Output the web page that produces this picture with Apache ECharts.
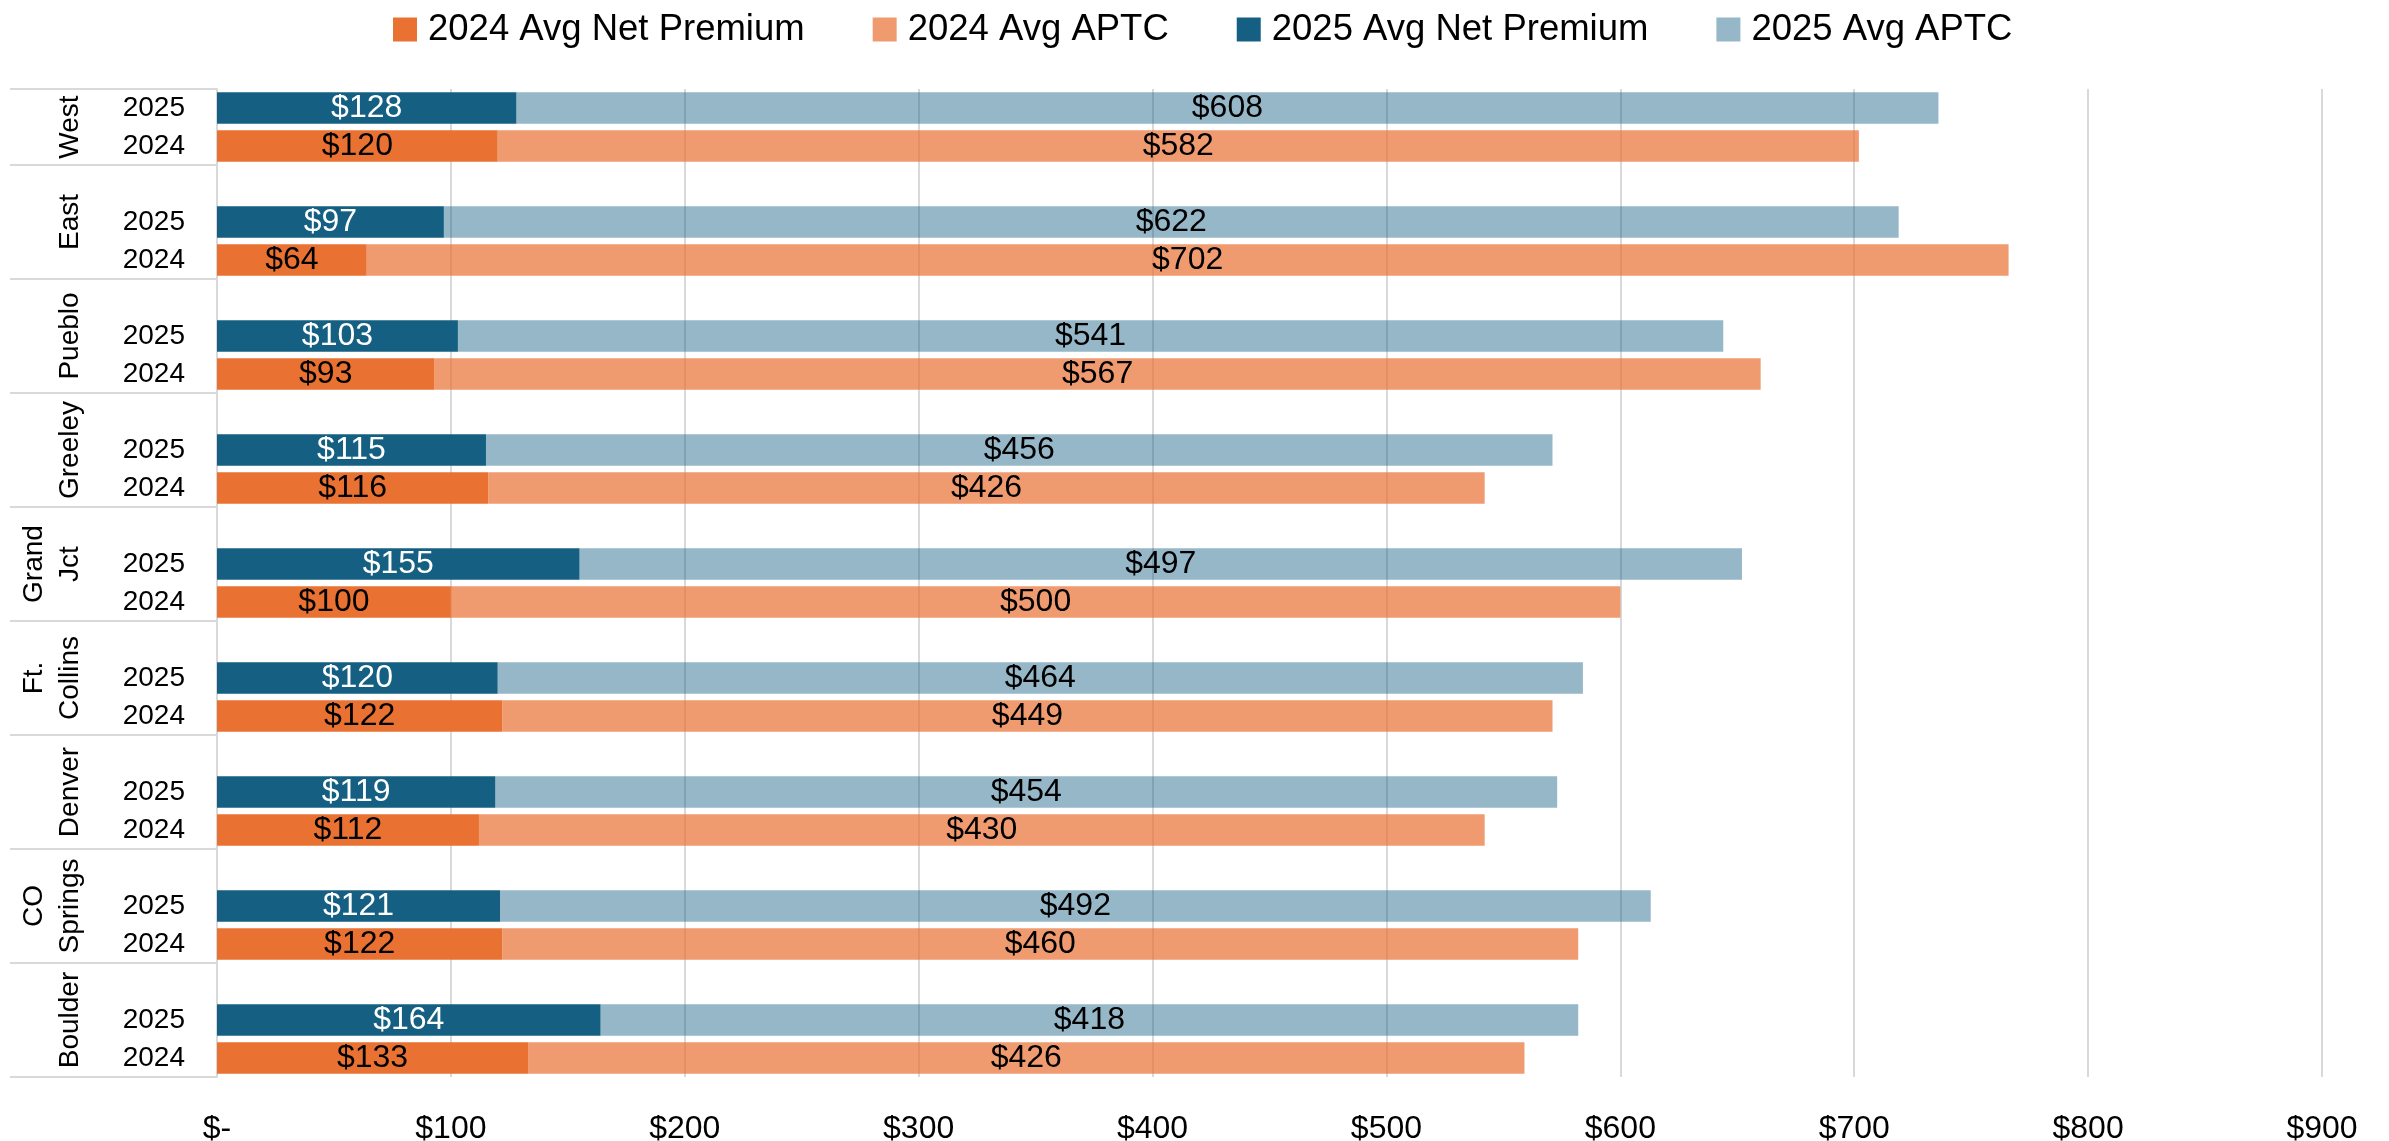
<!DOCTYPE html>
<html>
<head>
<meta charset="utf-8">
<title>Avg Net Premium and APTC by Region</title>
<script src="https://cdn.jsdelivr.net/npm/echarts@6/dist/echarts.min.js"></script>
<style>
  html, body { margin: 0; padding: 0; background: #fff; }
  #chart { width: 2389px; height: 1141px; }
</style>
</head>
<body>
<div id="chart"></div>
<script>
// regions, bottom to top
var regions = ['Boulder', 'CO\nSprings', 'Denver', 'Ft.\nCollins', 'Grand\nJct', 'Greeley', 'Pueblo', 'East', 'West'];
var years = ['2024', '2025'];
var net2024 = [133, 122, 112, 122, 100, 116, 93, 64, 120];
var aptc2024 = [426, 460, 430, 449, 500, 426, 567, 702, 582];
var net2025 = [164, 121, 119, 120, 155, 115, 103, 97, 128];
var aptc2025 = [418, 492, 454, 464, 497, 456, 541, 622, 608];
var xTicks = [0, 100, 200, 300, 400, 500, 600, 700, 800, 900];

var FONT = '"Liberation Sans", Arial, sans-serif';
var ORANGE = '#E97132';
var ORANGE_LT = 'rgba(233,113,50,0.7)';
var BLUE = '#156082';
var BLUE_LT = 'rgba(21,96,130,0.45)';
var GRID_GRAY = '#d9d9d9';

// build the rows: 2024, 2025 and a blank spacer between regions
var rows = [];
var s24n = [], s24a = [], s25n = [], s25a = [];
var groupCenters = [];   // value-axis positions of region names
var centerName = {};
regions.forEach(function (name, i) {
  var start = rows.length;
  rows.push(years[0]);
  s24n.push(net2024[i]); s24a.push(aptc2024[i]); s25n.push('-'); s25a.push('-');
  rows.push(years[1]);
  s24n.push('-'); s24a.push('-'); s25n.push(net2025[i]); s25a.push(aptc2025[i]);
  if (i < regions.length - 1) {
    rows.push('');
    s24n.push('-'); s24a.push('-'); s25n.push('-'); s25a.push('-');
  }
  var c = (start + rows.length) / 2;
  groupCenters.push(c);
  centerName[c] = name;
});
// separator sits above each region's blank spacer
var sepValues = [0];
for (var k = 0; k < regions.length - 1; k++) sepValues.push(3 * k + 3);
sepValues.push(rows.length);

var chart = echarts.init(document.getElementById('chart'));

function dollar(p) { return '$' + p.value; }

var labelBase = { show: true, position: 'inside', fontFamily: FONT, fontSize: 32, formatter: dollar };

var option = {
  animation: false,
  textStyle: { fontFamily: FONT },
  legend: {
    left: 388,
    top: 6,
    itemWidth: 24,
    itemHeight: 24,
    itemGap: 68,
    icon: 'rect',
    textStyle: { fontFamily: FONT, fontSize: 36.5, color: '#000', padding: [0, 0, 0, 6] },
    data: ['2024 Avg Net Premium', '2024 Avg APTC', '2025 Avg Net Premium', '2025 Avg APTC']
  },
  grid: { left: 217, right: 67, top: 89, bottom: 64, containLabel: false, outerBoundsMode: 'none' },
  xAxis: {
    type: 'value',
    min: 0,
    max: 900,
    interval: 100,
    axisLine: { show: false },
    axisTick: { show: false },
    splitLine: { show: true, lineStyle: { color: GRID_GRAY, width: 2 } },
    axisLabel: {
      color: '#000',
      fontFamily: FONT,
      fontSize: 32,
      margin: 36,
      customValues: xTicks,
      formatter: function (v) { return v === 0 ? '$-' : '$' + v; }
    }
  },
  yAxis: [{
    type: 'category',
    data: rows,
    position: 'left',
    axisLine: { show: true, lineStyle: { color: GRID_GRAY, width: 2 } },
    axisTick: { show: false },
    axisLabel: { color: '#000', fontFamily: FONT, fontSize: 28, margin: 32, interval: 0 }
  }, {
    type: 'value',
    min: 0,
    max: rows.length,
    position: 'left',
    splitLine: { show: false },
    axisLine: { show: false },
    axisTick: {
      show: true,
      customValues: sepValues,
      length: 207,
      lineStyle: { color: GRID_GRAY, width: 2 }
    },
    axisLabel: {
      color: '#000',
      fontFamily: FONT,
      fontSize: 28,
      lineHeight: 36,
      rotate: 90,
      margin: 129,
      customValues: groupCenters,
      formatter: function (v) { return centerName[v] || ''; }
    }
  }],
  series: [{
    name: '2024 Avg Net Premium',
    type: 'bar',
    stack: 'total',
    barCategoryGap: '17%',
    data: s24n,
    itemStyle: { color: ORANGE },
    label: Object.assign({}, labelBase, { color: '#000' })
  }, {
    name: '2024 Avg APTC',
    type: 'bar',
    stack: 'total',
    data: s24a,
    itemStyle: { color: ORANGE_LT },
    label: Object.assign({}, labelBase, { color: '#000' })
  }, {
    name: '2025 Avg Net Premium',
    type: 'bar',
    stack: 'total',
    data: s25n,
    itemStyle: { color: BLUE },
    label: Object.assign({}, labelBase, { color: '#fff' })
  }, {
    name: '2025 Avg APTC',
    type: 'bar',
    stack: 'total',
    data: s25a,
    itemStyle: { color: BLUE_LT },
    label: Object.assign({}, labelBase, { color: '#000' })
  }]
};

chart.setOption(option);
</script>
</body>
</html>
